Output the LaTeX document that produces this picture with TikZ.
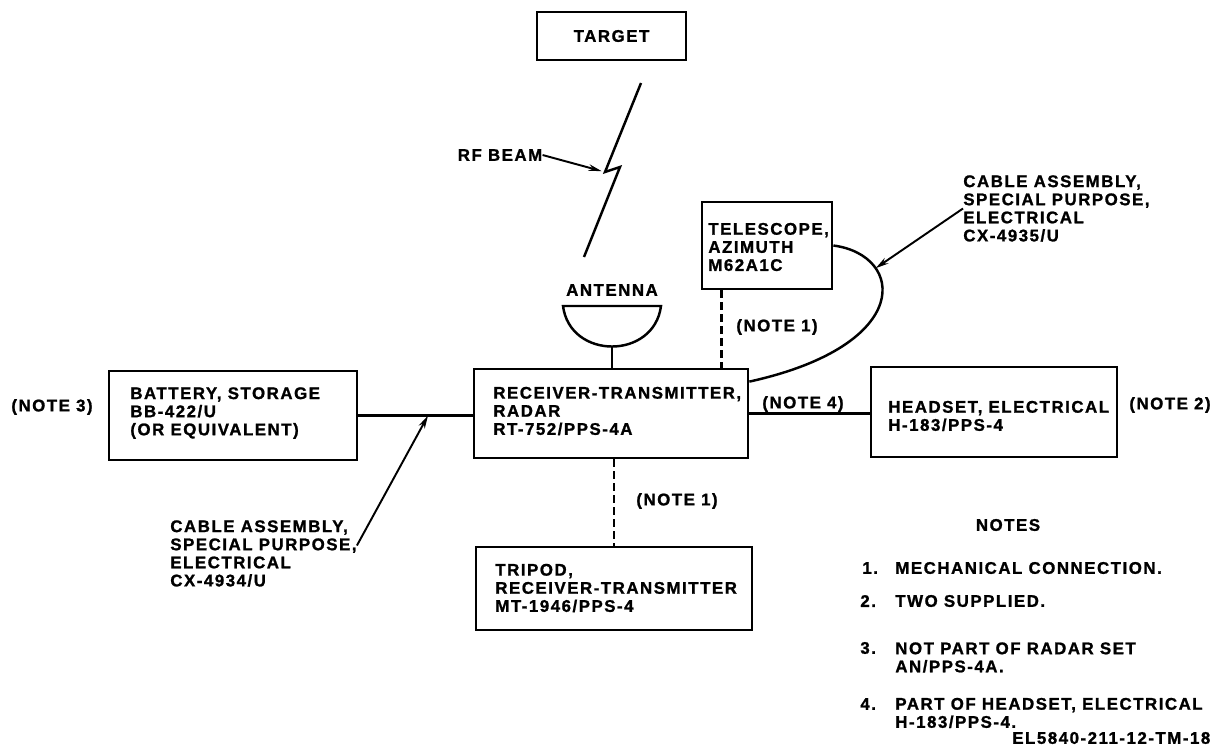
\documentclass[tikz,border=0pt]{standalone}
\usepackage{fontspec}
\setmainfont{Liberation Sans}[LetterSpace=9, BoldFeatures={FakeBold=1.2}]
\usetikzlibrary{calc,arrows.meta}

\tikzset{
  box/.style={draw, line width=1.6pt, inner sep=0pt},
  txt/.style={font=\bfseries\fontsize{9.6}{10.3}\selectfont, align=left, inner sep=0pt},
  wire/.style={line width=1.4pt},
  mech/.style={line width=1.4pt, dash pattern=on 4.5pt off 2.3pt},
  lead/.style={line width=1.1pt, -{Stealth[length=7.5pt,width=3.8pt]}},
}

\begin{document}
\begin{tikzpicture}[x=0.02cm, y=-0.02cm]
      \useasboundingbox (0,0) rectangle (1231,745);
      % boxes
      \node[box, txt, minimum width=2.98cm, minimum height=0.96cm] (tgt) at (611.5,36) {TARGET};
      \node[box, minimum width=2.6cm, minimum height=1.74cm] (tel) at (767,245.5) {};
      \node[box, minimum width=5.48cm, minimum height=1.78cm] (rt) at (611,413.5) {};
      \node[box, minimum width=4.96cm, minimum height=1.78cm] (bat) at (233,415.5) {};
      \node[box, minimum width=4.92cm, minimum height=1.8cm] (hs) at (994,412) {};
      \node[box, minimum width=5.52cm, minimum height=1.66cm] (tp) at (614,588.5) {};
      \node[txt, anchor=west] (tell) at (708,247) {TELESCOPE,\\AZIMUTH\\M62A1C};
      \node[txt, anchor=west] (rtl) at (493,411) {RECEIVER-TRANSMITTER,\\RADAR\\RT-752/PPS-4A};
      \node[txt, anchor=west] (batl) at (130,413) {BATTERY, STORAGE\\BB-422/U\\(OR EQUIVALENT)};
      \node[txt, anchor=west] (hsl) at (888,416) {HEADSET, ELECTRICAL\\H-183/PPS-4};
      \node[txt, anchor=west] (tpl) at (495,588) {TRIPOD,\\RECEIVER-TRANSMITTER\\MT-1946/PPS-4};
      % labels
      \node[txt] (ant) at (612,290) {ANTENNA};
      \node[txt] (rfl) at (500,155) {RF BEAM};
      \node[txt] (n3) at (52,407) {(NOTE 3)};
      \node[txt] (n1a) at (777,327) {(NOTE 1)};
      \node[txt] (n1b) at (677,501) {(NOTE 1)};
      \node[txt] (n4) at (803,404) {(NOTE 4)};
      \node[txt] (n2) at (1170,405) {(NOTE 2)};
      \node[txt, anchor=west] (cx35) at (963,208.5) {CABLE ASSEMBLY,\\SPECIAL PURPOSE,\\ELECTRICAL\\CX-4935/U};
      \node[txt, anchor=west] (cx34) at (170,553.5) {CABLE ASSEMBLY,\\SPECIAL PURPOSE,\\ELECTRICAL\\CX-4934/U};
      % antenna
      \draw[wire] (563,306) -- (661,306) .. controls (654,360) and (570,360) .. cycle;
      \coordinate (dish) at (612,346);
      \draw[wire] (dish) -- (dish |- rt.north);
      % rf beam
      \coordinate (rf1) at (641,83);
      \coordinate (rf2) at (605,172);
      \coordinate (rf3) at (620,167);
      \coordinate (rf4) at (584,257);
      \draw[wire] (rf1) -- (rf2) -- (rf3) -- (rf4);
      \draw[lead, shorten >=2pt] (rfl.east) -- (rf2);
      % connections
      \draw[wire] (bat.east) -- (bat.east -| rt.west) coordinate[pos=0.61] (cb);
      \draw[wire] (rt.east) -- (rt.east -| hs.west);
      \coordinate (td) at ([xshift=0.42cm]tel.south west);
      \draw[mech] (td) -- (td |- rt.north);
      \draw[mech] (tp.north |- rt.south) -- (tp.north);
      \coordinate (rtc) at ([yshift=-0.28cm]rt.north east);
      \draw[wire] (tel.east) .. controls (905,255) and (915,345) .. (rtc) coordinate[pos=0.27] (cc);
      \draw[lead] (cx35.west) -- (cc);
      \draw[lead] ([yshift=0.16cm]cx34.east) -- (cb);
      % notes
      \node[txt] (notes) at (1008,525) {NOTES};
      \node[txt, anchor=west] (k1) at (862,568) {1.};
      \node[txt, anchor=west] (t1) at (895,568) {MECHANICAL CONNECTION.};
      \node[txt, anchor=west] (k2) at (860,601) {2.};
      \node[txt, anchor=west] (t2) at (895,601) {TWO SUPPLIED.};
      \node[txt, anchor=west] (k3) at (860,648) {3.};
      \node[txt, anchor=west] (t3) at (895,657.5) {NOT PART OF RADAR SET\\AN/PPS-4A.};
      \node[txt, anchor=west] (k4) at (860,704) {4.};
      \node[txt, anchor=west] (t4) at (895,713) {PART OF HEADSET, ELECTRICAL\\H-183/PPS-4.};
      \node[txt, anchor=west] (fig) at (1012,738) {EL5840-211-12-TM-18};
    \end{tikzpicture}
\end{document}
